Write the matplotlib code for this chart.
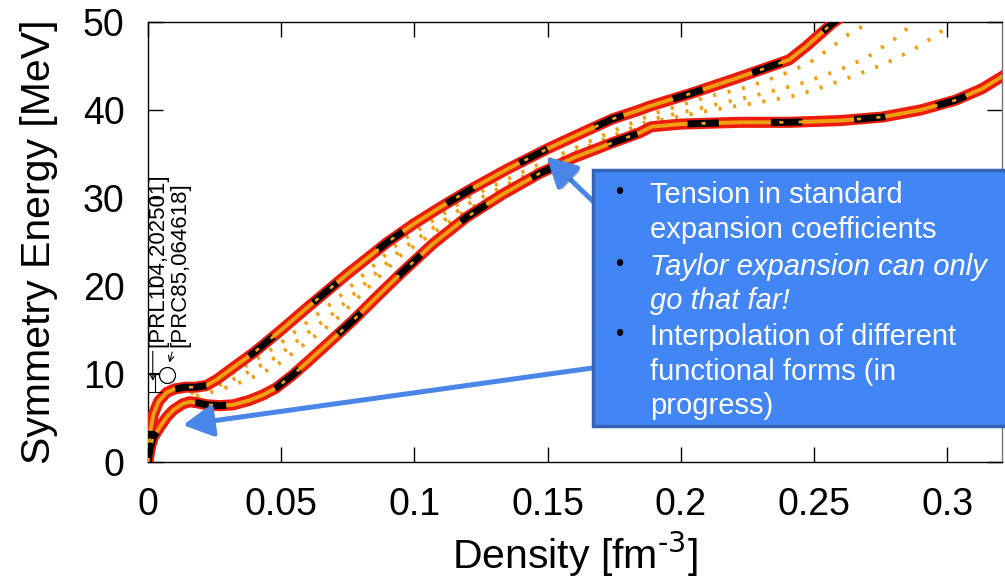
import matplotlib
matplotlib.use("Agg")
import matplotlib.pyplot as plt
from matplotlib.patches import Rectangle, FancyArrowPatch
import matplotlib.patheffects as pe

plt.rcParams["font.family"] = ["Liberation Sans", "DejaVu Sans"]

# upper edge of the band
upper_x = [0.0, 0.0005, 0.001, 0.002, 0.004, 0.007, 0.010, 0.014, 0.018, 0.022,
           0.026, 0.030, 0.040, 0.050, 0.060, 0.075, 0.090, 0.100, 0.110, 0.120,
           0.135, 0.150, 0.165, 0.1745, 0.1845, 0.188, 0.205, 0.2208, 0.2407,
           0.247, 0.2569, 0.26]
upper_y = [0.0, 2.3, 3.8, 5.4, 6.9, 7.9, 8.3, 8.5, 8.5, 8.7,
           9.4, 10.3, 12.5, 15.0, 17.6, 21.4, 25.0, 27.1, 29.0, 30.8,
           33.3, 35.6, 37.7, 39.0, 40.0, 40.4, 42.0, 43.6, 45.7,
           47.2, 49.85, 50.5]

# lower edge of the band
lower_x = [0.0, 0.0005, 0.001, 0.002, 0.0045, 0.007, 0.0095, 0.013, 0.0157, 0.019,
           0.022, 0.027, 0.032, 0.038, 0.043, 0.048, 0.054, 0.060, 0.068, 0.077,
           0.086, 0.0945, 0.107, 0.1195, 0.133, 0.147, 0.160, 0.1745, 0.1845,
           0.189, 0.200, 0.222, 0.241, 0.260, 0.2757, 0.290, 0.303, 0.313, 0.3206]
lower_y = [0.0, 1.0, 1.8, 2.8, 4.0, 5.1, 5.9, 6.6, 6.85, 6.7,
           6.5, 6.4, 6.5, 7.0, 7.6, 8.4, 9.8, 11.4, 13.6, 16.1,
           18.8, 21.3, 24.8, 27.8, 30.4, 32.8, 34.6, 36.3, 37.4,
           38.1, 38.4, 38.6, 38.6, 38.8, 39.2, 40.0, 41.1, 42.4, 43.8]

# dotted interpolation curves inside the band
dot1_x = [0.016, 0.025, 0.035, 0.048, 0.070, 0.0945, 0.120, 0.150, 0.170, 0.190,
          0.210, 0.225, 0.238, 0.248, 0.256, 0.263, 0.271]
dot1_y = [8.2, 9.0, 10.6, 13.1, 18.3, 25.0, 30.0, 34.3, 37.0, 39.6,
          41.5, 42.6, 44.0, 45.3, 47.0, 48.6, 50.0]
dot2_x = [0.016, 0.025, 0.035, 0.048, 0.070, 0.0945, 0.120, 0.150, 0.170, 0.190,
          0.210, 0.230, 0.245, 0.260, 0.270, 0.280, 0.288]
dot2_y = [7.8, 8.5, 9.8, 11.9, 17.0, 24.0, 29.3, 33.8, 36.5, 39.0,
          40.4, 41.8, 43.0, 44.6, 46.0, 48.0, 50.0]
dot3_x = [0.018, 0.027, 0.037, 0.048, 0.070, 0.0945, 0.120, 0.150, 0.170, 0.190,
          0.210, 0.230, 0.244, 0.255, 0.266, 0.277, 0.287, 0.297, 0.3015]
dot3_y = [7.5, 8.2, 9.3, 10.9, 16.0, 23.4, 28.7, 33.3, 36.0, 38.7,
          39.9, 40.9, 41.7, 42.8, 44.0, 45.3, 46.8, 48.7, 50.0]
dotted_curves = [(dot1_x, dot1_y), (dot2_x, dot2_y), (dot3_x, dot3_y)]

x_ticks = [0, 0.05, 0.1, 0.15, 0.2, 0.25, 0.3]
x_labels = ["0", "0.05", "0.1", "0.15", "0.2", "0.25", "0.3"]
y_ticks = [0, 10, 20, 30, 40, 50]

# box text, one entry per line: (text, style, has bullet)
box_lines = [("Tension in standard", "normal", True),
             ("expansion coefficients", "normal", False),
             ("Taylor expansion can only", "italic", True),
             ("go that far!", "italic", False),
             ("Interpolation of different", "normal", True),
             ("functional forms (in", "normal", False),
             ("progress)", "normal", False)]
baselines_px = [203, 238, 275, 309, 345, 380, 414]

RED = "#ec1c0c"
ORANGE = "#eea010"
BLUE = "#4a86e8"

fig = plt.figure(figsize=(10.05, 5.84), dpi=100)
ax = fig.add_axes([148 / 1005, 1 - 462 / 584, (1002 - 148) / 1005, (462 - 22) / 584])

# dotted curves
for dx, dy in dotted_curves:
    ax.plot(dx, dy, color=ORANGE, lw=2.8, dashes=(0.8, 3.0), dash_capstyle="butt", zorder=2)

# band edges, layered like the gnuplot original
for cx, cy in [(upper_x, upper_y), (lower_x, lower_y)]:
    ax.plot(cx, cy, color=RED, lw=8, solid_joinstyle="round", zorder=3)
    ax.plot(cx, cy, color=ORANGE, lw=2.8, solid_joinstyle="round", zorder=4)
    ax.plot(cx, cy, color="black", lw=5, dashes=(4.5, 7.5), dash_capstyle="butt", zorder=5)
    ax.plot(cx, cy, color=ORANGE, lw=2.0, dashes=(1.5, 5.5), dash_capstyle="butt", zorder=6)

# reference points near zero density
ax.errorbar([0.0025], [9.0], yerr=[1.1], fmt="none", ecolor="black", elinewidth=0.8,
            capsize=5, capthick=0.8, zorder=7, clip_on=False)
ax.plot([0.0071], [9.9], marker="o", ms=11.5, mfc="white", mec="black", mew=0.9,
        zorder=7, clip_on=False)
ax.annotate("", xy=(0.0018, 8.9), xytext=(0.0018, 12.9),
            arrowprops=dict(arrowstyle="->", color="black", lw=0.8), zorder=7)
ax.annotate("", xy=(0.0077, 11.0), xytext=(0.0094, 12.8),
            arrowprops=dict(arrowstyle="->", color="black", lw=0.8), zorder=7)
ax.text(0.0036, 13.1, "[PRL104,202501]", rotation=90, ha="center", va="bottom",
        fontsize=16, zorder=7)
ax.text(0.0118, 13.1, "[PRC85,064618]", rotation=90, ha="center", va="bottom",
        fontsize=16, zorder=7)

ax.set_xlim(0, 0.3206)
ax.set_ylim(0, 50)
ax.set_xticks(x_ticks)
ax.set_xticklabels(x_labels)
ax.set_yticks(y_ticks)
ax.tick_params(direction="in", length=11, width=1, top=True, right=True,
               labelsize=27, pad=18)
ax.tick_params(axis="y", pad=17)
for sp in ax.spines.values():
    sp.set_linewidth(1.0)
ax.spines["right"].set_color("#777777")
ax.set_xlabel("Density [fm$^{\\text{-3}}$]", fontsize=29.5, labelpad=5)
ax.set_ylabel("Symmetry Energy [MeV]", fontsize=29.5, labelpad=18)

# blue arrows pointing from the box to the curves
shadow = [pe.SimplePatchShadow(offset=(2, -2), alpha=0.35), pe.Normal()]
for tail, head in [((0.1744, 27.5), (0.1496, 34.7)), ((0.1744, 11.0), (0.0131, 4.2))]:
    arr = FancyArrowPatch(tail, head, arrowstyle="-|>,head_length=0.6,head_width=0.32",
                          mutation_scale=30, color=BLUE, lw=3.6, shrinkA=0, shrinkB=0,
                          clip_on=False, zorder=8)
    arr.set_path_effects(shadow)
    ax.add_patch(arr)

# text box on top of the axes
box_shadow = Rectangle((593 / 1005 + 0.002, 1 - 426 / 584 - 0.004), 0.45, (426 - 170) / 584,
                       transform=fig.transFigure, facecolor="#999999", alpha=0.4,
                       edgecolor="none", zorder=9)
box = Rectangle((593 / 1005, 1 - 426 / 584), 0.45, (426 - 170) / 584,
                transform=fig.transFigure, facecolor="#4285f4", edgecolor="#3463b5",
                lw=2.5, zorder=10)
fig.patches.extend([box_shadow, box])

for (txt, style, bullet), bl in zip(box_lines, baselines_px):
    fig.text(650 / 1005, 1 - bl / 584, txt, color="white", fontsize=21,
             fontstyle=style, ha="left", va="baseline", zorder=11)
    if bullet:
        fig.text(619 / 1005, 1 - (bl - 10) / 584, "\u2022", color="black", fontsize=17,
                 ha="center", va="center", zorder=11)

fig.savefig("out.png", dpi=100)
